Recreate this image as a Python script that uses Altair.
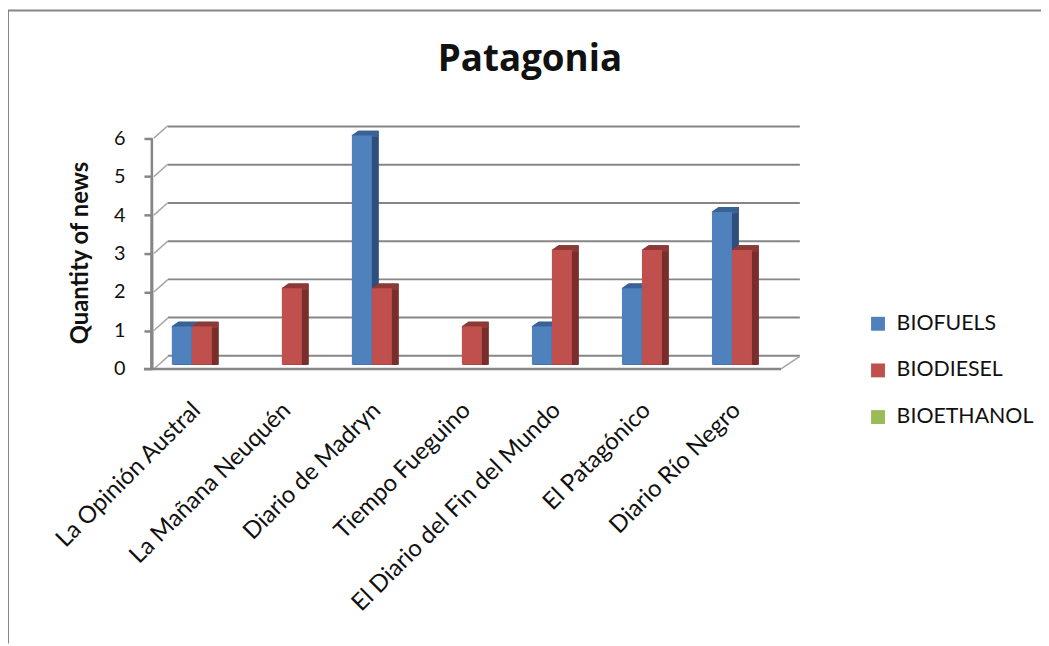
import altair as alt
import pandas as pd

title_text = ["Patagonia"]
categories = ["La Opinión Austral", "La Mañana Neuquén", "Diario de Madryn", "Tiempo Fueguino",
              "El Diario del Fin del Mundo", "El Patagónico", "Diario Río Negro"]
series_names = ["BIOFUELS", "BIODIESEL", "BIOETHANOL"]
biofuels = [1, 0, 6, 0, 1, 2, 4]
biodiesel = [1, 2, 2, 1, 3, 3, 3]
bioethanol = [0, 0, 0, 0, 0, 0, 0]
front_colors = ["#4F81BD", "#C0504D", "#9BBB59"]
side_colors = ["#2F4F7C", "#7A2E2C", "#5F7530"]
top_colors = ["#3A6296", "#8E3A38", "#76923C"]
y_ticks = [0, 1, 2, 3, 4, 5, 6]

FONT = "Lato"
GRAY = "#868686"
W, H = 635, 246
PL, PT = 150, 116
TOTAL_W, TOTAL_H = 1041, 638
STEP = W / len(categories)

rows = []
for name, vals in zip(series_names, [biofuels, biodiesel, bioethanol]):
    for c, v in zip(categories, vals):
        rows.append({"cat": c, "series": name, "v": v, "top": v - 0.035})
df = pd.DataFrame(rows)
ticks = pd.DataFrame({"t": y_ticks})
ticks["back"] = ticks["t"] + 0.322
base_row = pd.DataFrame({"t": [0], "back": [0.33], "label": title_text})

bar_y_scale = alt.Scale(domain=[-0.13, 6.26], nice=False, zero=False)
front_y_scale = alt.Scale(domain=[-0.018, 6.327], nice=False, zero=False)

x_enc = alt.X("cat:N", sort=categories, title=None,
              scale=alt.Scale(domain=categories, paddingInner=0, paddingOuter=0),
              axis=alt.Axis(labelAngle=315, labelAlign="right", labelBaseline="middle",
                            labelFontSize=24, labelFont=FONT, labelColor="#111111",
                            labelPadding=37, labelOffset=-5, domain=False, ticks=False, grid=False,
                            labelOverlap=False, labelLimit=500))


def xo_enc(shift=0):
    return alt.XOffset("series:N", sort=series_names,
                       scale=alt.Scale(domain=series_names, paddingInner=0, paddingOuter=0.75,
                                       range=[shift, STEP + shift]))


color_enc = alt.Color("series:N", sort=series_names,
                      scale=alt.Scale(domain=series_names, range=front_colors),
                      legend=alt.Legend(title=None, orient="none", legendX=716, legendY=189,
                                        symbolType="square", symbolSize=196, symbolStrokeWidth=0,
                                        labelFont=FONT, labelFontSize=21.5, labelColor="#111111",
                                        rowPadding=24, labelOffset=8, values=series_names))
yb = lambda f="v:Q": alt.Y(f, scale=bar_y_scale, axis=None, stack=None)

layers = []

# chart frame
layers.append(alt.Chart(base_row).mark_rule(color=GRAY, strokeWidth=2).encode(
    x=alt.value(-PL), x2=alt.value(TOTAL_W - PL), y=alt.value(-PT)))
layers.append(alt.Chart(base_row).mark_rule(color=GRAY, strokeWidth=2).encode(
    x=alt.value(-PL), y=alt.value(-PT), y2=alt.value(TOTAL_H - PT)))

# title
layers.append(alt.Chart(base_row).mark_text(
    font="Open Sans", fontSize=37, fontWeight="bold", color="#111111", baseline="middle", align="center"
).encode(x=alt.value(376), y=alt.value(-66), text="label:N"))

# back wall grid lines
layers.append(alt.Chart(ticks).mark_rule(color=GRAY, strokeWidth=2, yOffset=-9).encode(
    x=alt.value(11), x2=alt.value(648), y=alt.Y("t:Q", scale=bar_y_scale, axis=None)))
# slanted wall connectors
layers.append(alt.Chart(ticks).mark_rule(color="#A6A6A6", strokeWidth=1.5).encode(
    x=alt.value(-3), x2=alt.value(11),
    y=alt.Y("t:Q", scale=front_y_scale, axis=None), y2="back:Q"))
# floor front edge and right edge
layers.append(alt.Chart(base_row).mark_rule(color="#A6A6A6", strokeWidth=1.5).encode(
    x=alt.value(629), x2=alt.value(648),
    y=alt.Y("t:Q", scale=front_y_scale, axis=None), y2="back:Q"))
layers.append(alt.Chart(base_row).mark_rule(color=GRAY, strokeWidth=2.5).encode(
    x=alt.value(-13), x2=alt.value(629),
    y=alt.Y("t:Q", scale=front_y_scale, axis=None)))
# value axis
layers.append(alt.Chart(ticks).mark_rule(color=GRAY, strokeWidth=2.5).encode(
    x=alt.value(-5),
    y=alt.Y("t:Q", scale=front_y_scale,
            axis=alt.Axis(values=y_ticks, format="d", offset=5, domain=False, grid=False,
                          tickSize=8, tickColor=GRAY, tickWidth=2.5,
                          labelFont=FONT, labelFontSize=20, labelColor="#111111", labelPadding=19,
                          title="Quantity of news", titleFont=FONT, titleFontSize=24,
                          titleFontWeight="bold", titleColor="#111111", titleX=-60, titleY=128))))

# bars: depth faces first, then the front face, one series after the other
for s_name, front, side, top in zip(series_names, front_colors, side_colors, top_colors):
    d = df[(df["series"] == s_name) & (df["v"] > 0)]
    for i in range(7, 0, -1):
        layers.append(alt.Chart(d).mark_bar(color=side, yOffset=-i * 0.7).encode(
            x=x_enc, xOffset=xo_enc(i), y=yb()))
    for i in range(7, 0, -1):
        layers.append(alt.Chart(d).mark_bar(color=top, yOffset=-i * 0.7).encode(
            x=x_enc, xOffset=xo_enc(i - 1), y=yb(), y2="top:Q"))
    layers.append(alt.Chart(d).mark_bar().encode(
        x=x_enc, xOffset=xo_enc(0), y=yb(), color=color_enc))

chart = alt.layer(*layers).resolve_scale(y="independent", xOffset="independent").properties(
    width=W, height=H,
    padding={"left": PL, "top": PT, "right": TOTAL_W - PL - W, "bottom": TOTAL_H - PT - H},
    autosize=alt.AutoSizeParams(type="none"),
).configure_view(stroke=None).configure_axis(grid=False)

chart.save("out.html", embed_options={"renderer": "svg", "actions": False})
